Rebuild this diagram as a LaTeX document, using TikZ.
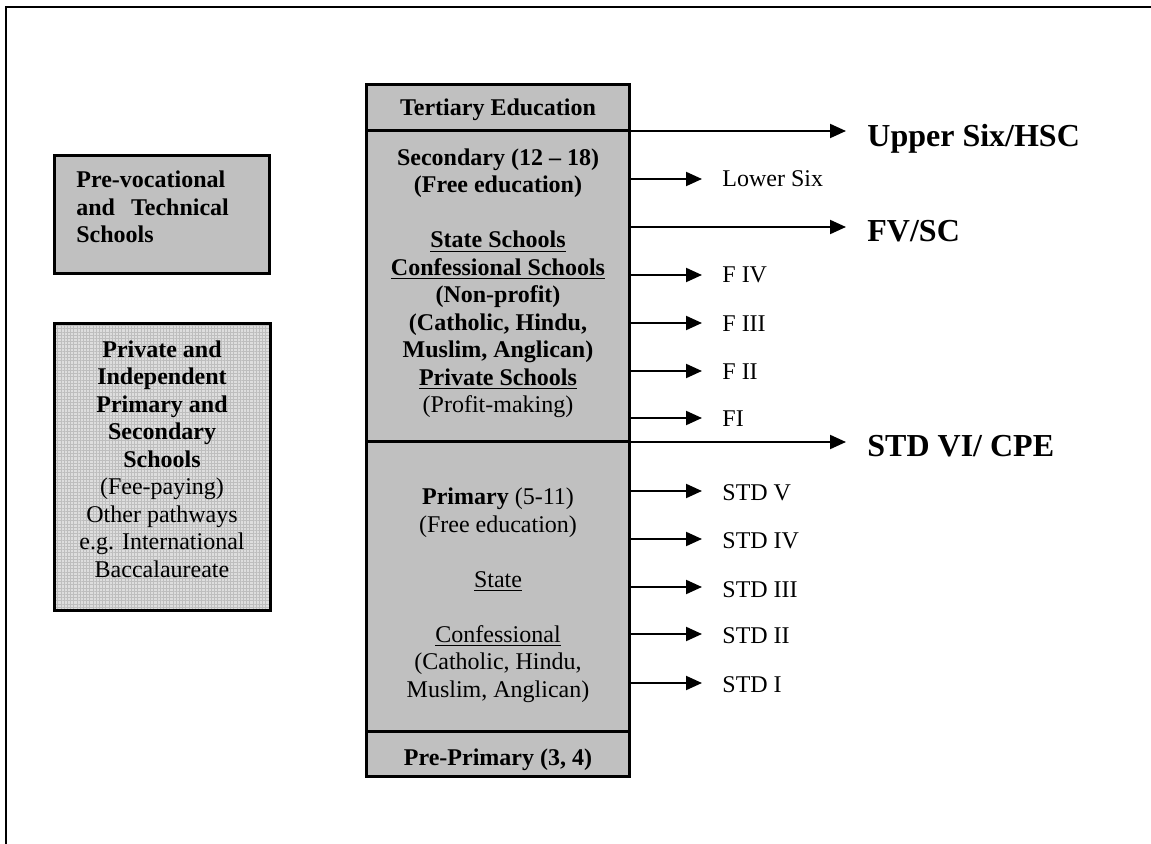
\documentclass[tikz,border=0pt]{standalone}
\usepackage{fontspec}
\setmainfont{Liberation Serif}
\usetikzlibrary{arrows.meta,patterns.meta}
\definecolor{boxgray}{RGB}{192,192,192}
\definecolor{privgray}{RGB}{222,222,222}
\definecolor{gridgray}{RGB}{190,190,190}
\begin{document}
\begin{tikzpicture}[x=0.5pt,y=-0.5pt,
  box/.style={draw=black, line width=1.5pt, fill=boxgray, inner sep=0pt},
  gridbox/.style={draw=black, line width=1.5pt, inner sep=0pt,
    preaction={fill=privgray},
    preaction={pattern={Lines[angle=0,distance=1.6pt,line width=0.3pt]}, pattern color=gridgray},
    pattern={Lines[angle=90,distance=1.6pt,line width=0.3pt]}, pattern color=gridgray},
  txt/.style={font=\fontsize{12}{13.75}\selectfont, align=center, inner sep=0pt, anchor=base},
  lbl/.style={font=\fontsize{12}{13.75}\selectfont, anchor=base west, inner sep=0pt},
  biglbl/.style={font=\fontsize{16}{18}\selectfont\bfseries, anchor=base west, inner sep=0pt},
  arr/.style={line width=1pt, -{Triangle[length=8pt,width=7pt]}}]
\useasboundingbox (0,0) rectangle (1151,844);

% page frame (top and left rules)
\draw[line width=1.2pt] (1151,7) -- (6,7) -- (6,844);

% left-hand boxes (text nodes are placed by the baseline of their last line)
\node[box, minimum width=107.5pt, minimum height=59pt] (voc) at (162,214.5) {};
\node[font=\fontsize{12}{13.75}\selectfont\bfseries, align=left, inner sep=0pt, anchor=base west]
  (voctxt) at (76,243) {Pre-vocational\\and\hspace{8pt}Technical\\Schools};

\node[gridbox, minimum width=108pt, minimum height=143.5pt] (priv) at (162.5,467) {};
\node[txt] (privtxt) at (162,577) {\textbf{Private and}\\\textbf{Independent}\\\textbf{Primary and}\\\textbf{Secondary}\\\textbf{Schools}\\(Fee-paying)\\Other pathways\\e.g. International\\Baccalaureate};

% central column of stages
\node[box, minimum width=131.5pt, minimum height=23.25pt] (tert) at (498,107.75) {};
\node[box, minimum width=131.5pt, minimum height=155.5pt] (sec) at (498,286.5) {};
\node[box, minimum width=131.5pt, minimum height=144.5pt] (prim) at (498,586.5) {};
\node[box, minimum width=131.5pt, minimum height=22.75pt] (pre) at (498,753.75) {};

\node[txt] (terttxt) at (498,116) {\bfseries Tertiary Education};
\node[txt] (sectxt) at (498,413) {\textbf{Secondary (12 -- 18)}\\\textbf{(Free education)}\\[13.75pt]
  \textbf{\underline{State Schools}}\\\textbf{\underline{Confessional Schools}}\\\textbf{(Non-profit)}\\
  \textbf{(Catholic, Hindu,}\\\textbf{Muslim, Anglican)}\\\textbf{\underline{Private Schools}}\\(Profit-making)};
\node[txt] (primtxt) at (498,697) {\textbf{Primary} (5-11)\\(Free education)\\[13.75pt]
  \underline{State}\\[13.75pt]\underline{Confessional}\\(Catholic, Hindu,\\Muslim, Anglican)};
\node[txt] (pretxt) at (498,765) {\bfseries Pre-Primary (3, 4)};

% arrow ends
\coordinate (e1) at (846,131);
\coordinate (e2) at (702,179);
\coordinate (e3) at (846,227);
\coordinate (e4) at (702,275);
\coordinate (e5) at (702,323);
\coordinate (e6) at (702,371);
\coordinate (e7) at (702,418);
\coordinate (e8) at (846,442);
\coordinate (e9) at (702,491);
\coordinate (e10) at (702,539);
\coordinate (e11) at (702,587);
\coordinate (e12) at (702,634);
\coordinate (e13) at (702,683);

\draw[arr] (sec.east |- e1) -- (e1);
\draw[arr] (sec.east |- e2) -- (e2);
\draw[arr] (sec.east |- e3) -- (e3);
\draw[arr] (sec.east |- e4) -- (e4);
\draw[arr] (sec.east |- e5) -- (e5);
\draw[arr] (sec.east |- e6) -- (e6);
\draw[arr] (sec.east |- e7) -- (e7);
\draw[arr] (prim.east |- e8) -- (e8);
\draw[arr] (prim.east |- e9) -- (e9);
\draw[arr] (prim.east |- e10) -- (e10);
\draw[arr] (prim.east |- e11) -- (e11);
\draw[arr] (prim.east |- e12) -- (e12);
\draw[arr] (prim.east |- e13) -- (e13);

% level labels
\node[biglbl] (l1) at (867,147) {Upper Six/HSC};
\node[lbl] (l2) at (722,187) {Lower Six};
\node[biglbl] (l3) at (867,242) {FV/SC};
\node[lbl] (l4) at (722,283) {F IV};
\node[lbl] (l5) at (722,332) {F III};
\node[lbl] (l6) at (722,380) {F II};
\node[lbl] (l7) at (722,427) {FI};
\node[biglbl] (l8) at (867,457) {STD VI/ CPE};
\node[lbl] (l9) at (722,501) {STD V};
\node[lbl] (l10) at (722,548) {STD IV};
\node[lbl] (l11) at (722,597) {STD III};
\node[lbl] (l12) at (722,643) {STD II};
\node[lbl] (l13) at (722,692) {STD I};
\end{tikzpicture}
\end{document}
